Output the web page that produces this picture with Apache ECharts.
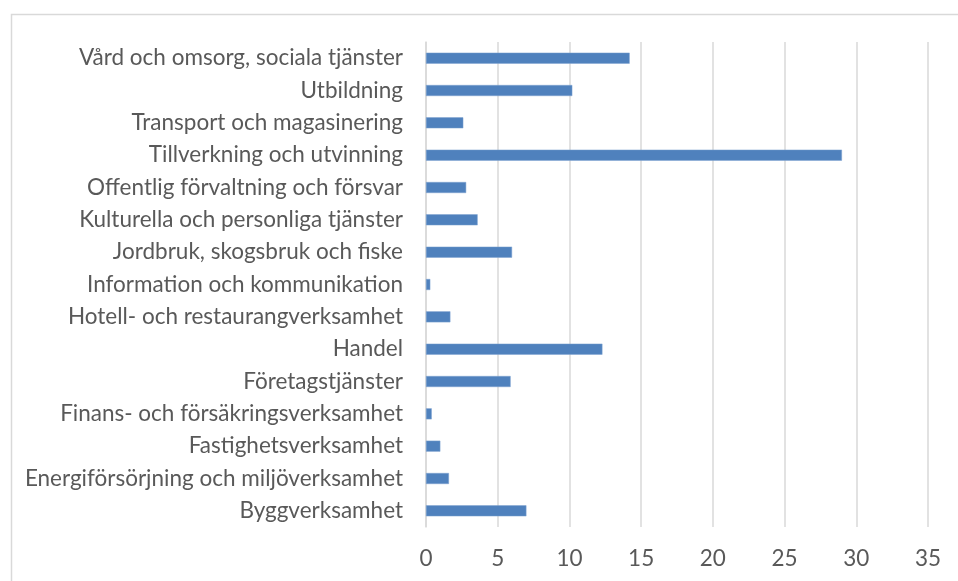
<!DOCTYPE html>
<html><head><meta charset="utf-8">
<script src="https://cdn.jsdelivr.net/npm/echarts@6/dist/echarts.min.js"></script>
<style>html,body{margin:0;padding:0;background:#fff}#c{width:958px;height:581px}</style>
</head><body><div id="c"></div>
<script>
const categories = [
  "Vård och omsorg, sociala tjänster",
  "Utbildning",
  "Transport och magasinering",
  "Tillverkning och utvinning",
  "Offentlig förvaltning och försvar",
  "Kulturella och personliga tjänster",
  "Jordbruk, skogsbruk och fiske",
  "Information och kommunikation",
  "Hotell- och restaurangverksamhet",
  "Handel",
  "Företagstjänster",
  "Finans- och försäkringsverksamhet",
  "Fastighetsverksamhet",
  "Energiförsörjning och miljöverksamhet",
  "Byggverksamhet"
];
const values = [14.2, 10.2, 2.6, 29.0, 2.8, 3.6, 6.0, 0.3, 1.7, 12.3, 5.9, 0.4, 1.0, 1.6, 7.0];
const xTicks = [0, 5, 10, 15, 20, 25, 30, 35];

const chart = echarts.init(document.getElementById('c'));
const font = 'Lato';
chart.setOption({
  animation: false,
  graphic: [{
    type: 'rect', left: 9, top: 12, z: -1,
    shape: { width: 1000, height: 620 },
    style: { fill: 'none', stroke: '#d9d9d9', lineWidth: 1.5 }
  }],
  grid: { left: 426, right: 30, top: 42, bottom: 54, containLabel: false },
  xAxis: {
    type: 'value', min: xTicks[0], max: xTicks[xTicks.length - 1], interval: 5,
    axisLine: { show: false }, axisTick: { show: false },
    splitLine: { lineStyle: { color: '#d9d9d9', width: 1.5 } },
    axisLabel: { color: '#595959', fontFamily: font, fontSize: 22.5, margin: 20 }
  },
  yAxis: {
    type: 'category', data: categories, inverse: true,
    axisLine: { show: true, lineStyle: { color: '#d9d9d9', width: 1.5 } },
    axisTick: { show: false },
    axisLabel: { color: '#595959', fontFamily: font, fontSize: 22.5, margin: 23 }
  },
  series: [{
    type: 'bar', data: values, barWidth: 11,
    itemStyle: { color: '#4F81BD', borderColor: '#7fa3d0', borderWidth: 0.5 }
  }]
});
</script></body></html>
